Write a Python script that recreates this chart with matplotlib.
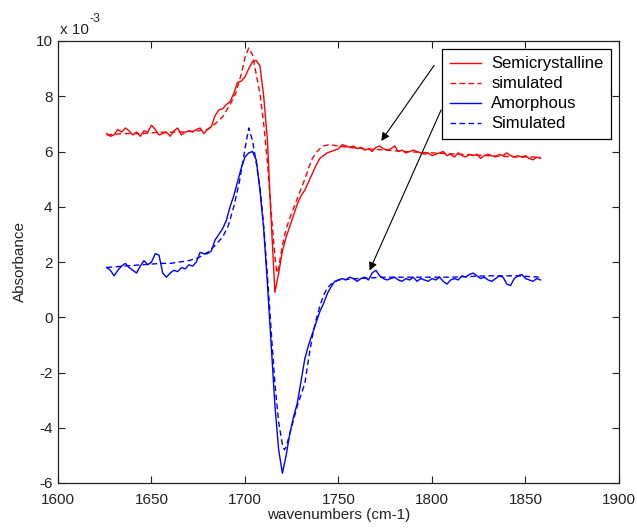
import matplotlib
matplotlib.use("Agg")
import matplotlib.pyplot as plt

plt.rcParams['font.family'] = ['Liberation Sans', 'DejaVu Sans']

# wavenumbers for measured spectra (cm-1)
wn = [1626, 1628, 1630, 1632, 1634, 1636, 1638, 1640, 1642, 1644, 1646, 1648, 1650, 1652, 1654, 1656,
      1658, 1660, 1662, 1664, 1666, 1668, 1670, 1672, 1674, 1676, 1678, 1680, 1682, 1684, 1686, 1688,
      1690, 1692, 1694, 1696, 1698, 1700, 1702, 1704, 1706, 1708, 1710, 1712, 1714, 1716, 1718, 1720,
      1722, 1724, 1726, 1728, 1730, 1732, 1734, 1736, 1738, 1740, 1742, 1744, 1746, 1748, 1750, 1752,
      1754, 1756, 1758, 1760, 1762, 1764, 1766, 1768, 1770, 1772, 1774, 1776, 1778, 1780, 1782, 1784,
      1786, 1788, 1790, 1792, 1794, 1796, 1798, 1800, 1802, 1804, 1806, 1808, 1810, 1812, 1814, 1816,
      1818, 1820, 1822, 1824, 1826, 1828, 1830, 1832, 1834, 1836, 1838, 1840, 1842, 1844, 1846, 1848,
      1850, 1852, 1854, 1856, 1858]

# absorbance x 1e-3
semicrystalline = [6.65, 6.55, 6.6, 6.8, 6.7, 6.85, 6.75, 6.6, 6.7, 6.55, 6.75, 6.7, 6.95, 6.8, 6.6, 6.65,
                   6.7, 6.55, 6.75, 6.85, 6.6, 6.7, 6.75, 6.7, 6.8, 6.85, 6.65, 6.8, 6.9, 7.3, 7.5, 7.55,
                   7.7, 7.8, 8.1, 8.5, 8.55, 8.7, 9.0, 9.25, 9.3, 9.1, 8.0, 6.4, 3.5, 0.9, 1.6, 2.4,
                   2.9, 3.3, 3.7, 4.1, 4.4, 4.6, 4.9, 5.2, 5.5, 5.75, 5.85, 5.95, 6.0, 6.05, 6.1, 6.25,
                   6.2, 6.15, 6.2, 6.1, 6.15, 6.05, 6.1, 6.0, 6.15, 6.2, 6.1, 6.05, 6.1, 6.2, 6.0, 6.05,
                   5.95, 6.0, 6.05, 6.0, 5.95, 5.9, 5.95, 5.85, 5.9, 5.95, 6.0, 5.85, 5.9, 5.8, 5.95, 5.85,
                   5.8, 5.9, 5.85, 5.9, 5.75, 5.85, 5.9, 5.85, 5.8, 5.9, 5.85, 5.95, 5.85, 5.8, 5.85, 5.8,
                   5.85, 5.75, 5.7, 5.8, 5.75]

amorphous = [1.8, 1.7, 1.5, 1.7, 1.85, 1.95, 1.8, 1.7, 1.6, 1.85, 2.05, 1.9, 2.0, 2.3, 2.25, 1.6,
             1.45, 1.6, 1.7, 1.65, 1.8, 1.75, 1.9, 1.85, 2.0, 2.35, 2.3, 2.3, 2.4, 2.8, 3.0, 3.2,
             3.5, 4.0, 4.4, 4.9, 5.4, 5.8, 5.95, 6.0, 5.7, 4.6, 3.2, 1.2, -1.0, -3.2, -4.8, -5.65,
             -5.0, -4.2, -3.6, -3.1, -2.3, -1.5, -1.0, -0.6, -0.2, 0.2, 0.5, 0.85, 1.1, 1.3, 1.35, 1.4,
             1.35, 1.45, 1.4, 1.3, 1.4, 1.45, 1.35, 1.6, 1.7, 1.5, 1.4, 1.35, 1.4, 1.45, 1.35, 1.3,
             1.4, 1.35, 1.45, 1.3, 1.4, 1.35, 1.3, 1.4, 1.35, 1.45, 1.3, 1.2, 1.35, 1.4, 1.35, 1.5,
             1.45, 1.55, 1.6, 1.5, 1.4, 1.45, 1.35, 1.3, 1.4, 1.5, 1.45, 1.2, 1.15, 1.4, 1.5, 1.55,
             1.4, 1.35, 1.3, 1.4, 1.35]

# simulated spectra
wn_sim_semi = [1626, 1635, 1645, 1655, 1665, 1675, 1680, 1684, 1688, 1692, 1695, 1698, 1700, 1702, 1704,
               1706, 1708, 1710, 1712, 1714, 1716, 1717, 1718, 1720, 1722, 1724, 1726, 1728, 1730, 1732,
               1734, 1736, 1738, 1740, 1742, 1745, 1750, 1755, 1765, 1775, 1785, 1800, 1815, 1830, 1845,
               1858]
sim_semi = [6.6, 6.65, 6.65, 6.7, 6.7, 6.75, 6.8, 7.0, 7.25, 7.7, 8.1, 8.8, 9.4, 9.75, 9.5,
            8.8, 8.1, 7.0, 5.6, 3.8, 2.2, 1.6, 1.8, 2.6, 3.2, 3.6, 3.95, 4.3, 4.65, 5.0,
            5.4, 5.75, 5.95, 6.1, 6.2, 6.25, 6.2, 6.15, 6.1, 6.05, 6.0, 5.95, 5.9, 5.85, 5.8,
            5.8]

wn_sim_amor = [1626, 1635, 1645, 1655, 1660, 1665, 1670, 1675, 1680, 1684, 1688, 1691, 1694, 1697, 1700,
               1702, 1704, 1706, 1708, 1710, 1712, 1714, 1716, 1718, 1720, 1721, 1722, 1724, 1726, 1728,
               1730, 1732, 1734, 1736, 1738, 1740, 1742, 1744, 1746, 1750, 1760, 1775, 1790, 1810, 1830,
               1845, 1858]
sim_amor = [1.8, 1.85, 1.9, 1.95, 1.95, 2.0, 2.05, 2.15, 2.35, 2.6, 2.9, 3.3, 4.0, 4.9, 6.1,
            6.85, 6.4, 5.6, 4.7, 3.3, 1.5, -0.5, -2.4, -3.8, -4.6, -4.8, -4.7, -4.2, -3.7, -3.2,
            -2.8, -2.4, -1.5, -0.7, -0.1, 0.4, 0.8, 1.05, 1.2, 1.35, 1.4, 1.45, 1.45, 1.45, 1.5,
            1.5, 1.45]

labels = ["Semicrystalline", "simulated", "Amorphous", "Simulated"]
xticks = [1600, 1650, 1700, 1750, 1800, 1850, 1900]
yticks = [-6, -4, -2, 0, 2, 4, 6, 8, 10]

fig = plt.figure(figsize=(6.37, 5.28), dpi=100)
ax = fig.add_axes([58 / 637, 45 / 528, 561 / 637, 442 / 528])

red = '#ff0000'
blue = '#0000ff'
dash = (0, (4, 2.5))
ax.plot(wn, semicrystalline, color=red, lw=1.0, label=labels[0])
ax.plot(wn_sim_semi, sim_semi, color=red, lw=1.0, linestyle=dash, label=labels[1])
ax.plot(wn, amorphous, color=blue, lw=1.0, label=labels[2])
ax.plot(wn_sim_amor, sim_amor, color=blue, lw=1.0, linestyle=dash, label=labels[3])

ax.set_xlim(1600, 1900)
ax.set_ylim(-6, 10)
ax.set_xticks(xticks)
ax.set_yticks(yticks)
ax.set_xticklabels([str(t) for t in xticks])
ax.set_yticklabels([str(t) for t in yticks])
ax.tick_params(direction='in', length=5, width=0.8, top=True, right=True,
               labelsize=11, colors='#222222')
ax.tick_params(axis='x', pad=7)
ax.tick_params(axis='y', pad=4)
for s in ax.spines.values():
    s.set_linewidth(0.9)
    s.set_color('#222222')

ax.set_xlabel("wavenumbers (cm-1)", fontsize=11, labelpad=1, color='#222222')
ax.set_ylabel("Absorbance", fontsize=11, labelpad=6, color='#222222')

fig.text(60 / 637, 1 - 34 / 528, "x 10", fontsize=11, color='#222222')
fig.text(89 / 637, 1 - 22 / 528, "-3", fontsize=9, color='#222222')

leg = ax.legend(loc='upper right', bbox_to_anchor=(0.986, 0.982), fontsize=12,
                frameon=True, fancybox=False, edgecolor='black', framealpha=1,
                handlelength=1.9, handletextpad=0.6, labelspacing=0.3,
                borderpad=0.45, borderaxespad=0)
leg.get_frame().set_linewidth(0.9)

ax.annotate("", xy=(1772, 6.3), xytext=(1802, 9.2),
            arrowprops=dict(arrowstyle='-|>', color='black', lw=0.8, mutation_scale=12))
ax.annotate("", xy=(1766, 1.6), xytext=(1805.5, 7.6),
            arrowprops=dict(arrowstyle='-|>', color='black', lw=0.8, mutation_scale=12))

fig.savefig("out.png", dpi=100)
